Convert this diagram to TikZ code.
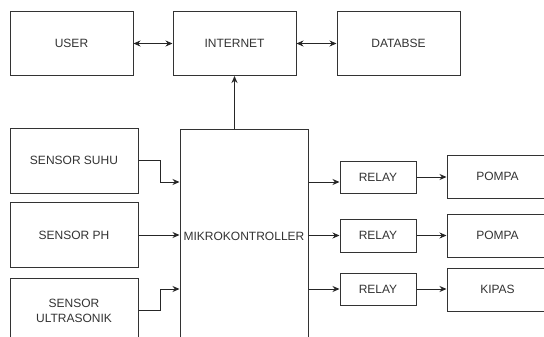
\documentclass[tikz,border=0pt]{standalone}
\usepackage{fontspec}
\setmainfont{Liberation Sans}
\usetikzlibrary{arrows.meta}
\begin{document}
\begin{tikzpicture}[x=1pt,y=-1pt,
  box/.style={draw=black!80,line width=1pt,rectangle,inner sep=0pt,align=center,
    font=\fontsize{12}{15}\selectfont,text=black!80},
  arr/.style={draw=black!85,line width=1pt,-{Stealth[length=7pt,width=6pt]}},
  darr/.style={draw=black!85,line width=1pt,{Stealth[length=7pt,width=6pt]}-{Stealth[length=7pt,width=6pt]}}]
\useasboundingbox (0,0) rectangle (544,337);
\fill[white] (0,0) rectangle (544,337);
\clip (0,0) rectangle (544,337);
% top row
\node[box,minimum width=123pt,minimum height=64pt] (user) at (71.5,43.5) {USER};
\node[box,minimum width=123pt,minimum height=64pt] (internet) at (234.5,43.5) {INTERNET};
\node[box,minimum width=123pt,minimum height=64pt] (db) at (398.5,43.5) {DATABSE};
% microcontroller
\node[box,minimum width=128pt,minimum height=214pt] (mk) at (244,236) {MIKROKONTROLLER};
% sensors
\node[box,minimum width=128pt,minimum height=65pt] (suhu) at (74,160.5) {SENSOR SUHU};
\node[box,minimum width=128pt,minimum height=65pt] (ph) at (74,235) {SENSOR PH};
\node[box,minimum width=128pt,minimum height=65pt] (ultra) at (74,310.5) {SENSOR\\ULTRASONIK};
% relays
\node[box,minimum width=76pt,minimum height=32pt] (r1) at (378,177) {RELAY};
\node[box,minimum width=76pt,minimum height=33pt] (r2) at (378,235.5) {RELAY};
\node[box,minimum width=76pt,minimum height=32pt] (r3) at (378,289) {RELAY};
% loads
\node[box,minimum width=101pt,minimum height=43pt] (p1) at (497.5,176.5) {POMPA};
\node[box,minimum width=101pt,minimum height=43pt] (p2) at (497.5,235.5) {POMPA};
\node[box,minimum width=101pt,minimum height=43pt] (kipas) at (497.5,289.5) {KIPAS};
% connectors
\draw[darr] (user) -- (internet);
\draw[darr] (internet) -- (db);
\draw[arr] (internet.south |- mk.north) -- (internet.south);
\coordinate (b1) at (160,182);
\coordinate (b3) at (160,289);
\draw[arr] (suhu.east) -| (b1) -- (mk.west |- b1);
\draw[arr] (ph.east) -- (mk.west |- ph.east);
\draw[arr] (ultra.east) -| (b3) -- (mk.west |- b3);
\coordinate (m1) at (308,182);
\draw[arr] (mk.east |- m1) -- (r1.west |- m1);
\draw[arr] (mk.east |- r2.west) -- (r2.west);
\draw[arr] (mk.east |- r3.west) -- (r3.west);
\draw[arr] (r1.east) -- (p1.west |- r1.east);
\draw[arr] (r2.east) -- (p2.west |- r2.east);
\draw[arr] (r3.east) -- (kipas.west |- r3.east);
\end{tikzpicture}
\end{document}
